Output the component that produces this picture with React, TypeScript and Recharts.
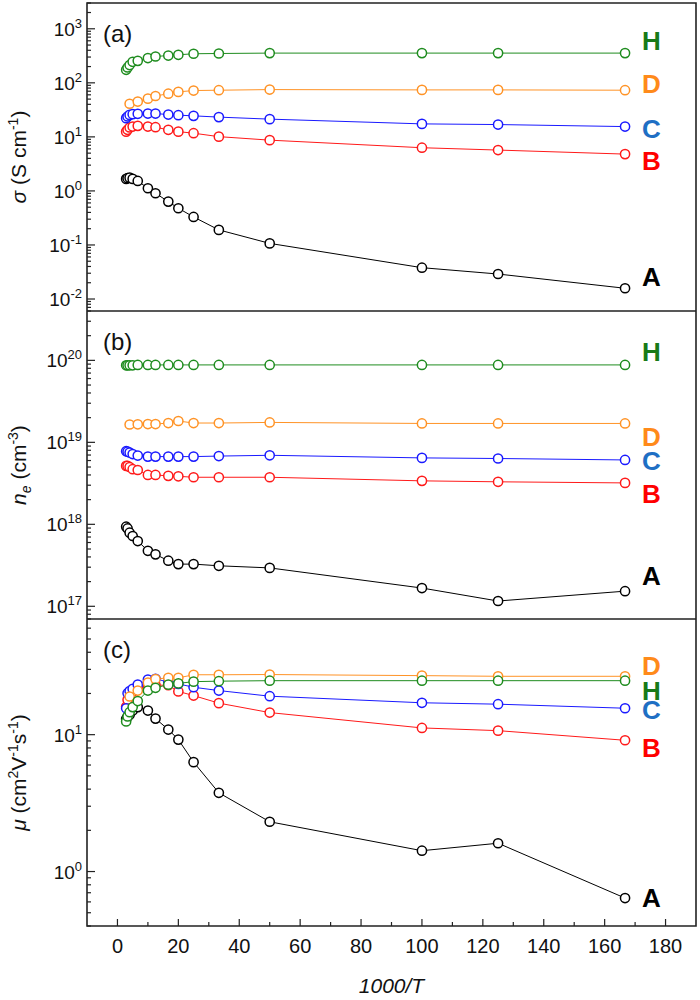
import React from 'react';
import { LineChart, Line, XAxis, YAxis, ReferenceArea } from 'recharts';

const FONT = '"Liberation Sans", Arial, Helvetica, sans-serif';
const AXIS = '#222';

// 1000/T for T = 350, 300, 250, 200, 150, 100, 80, 60, 50, 40, 30, 20, 10, 8, 6 K
const invT = [2.86, 3.33, 4, 5, 6.67, 10, 12.5, 16.7, 20, 25, 33.3, 50, 100, 125, 166.7];
// sample D starts at 250 K and skips 200 K
const invTD = [4, 6.67, 10, 12.5, 16.7, 20, 25, 33.3, 50, 100, 125, 166.7];

const xDomain = [-10, 190];
const xTicks = [0, 10, 20, 30, 40, 50, 60, 70, 80, 90, 100, 110, 120, 130, 140, 150, 160, 170, 180];

// (a) conductivity, S/cm
const sigmaA = [1.67, 1.72, 1.76, 1.67, 1.53, 1.12, 0.906, 0.634, 0.478, 0.33, 0.19, 0.107, 0.038, 0.029, 0.0158];
const sigmaB = [12.5, 13.5, 14.9, 15.5, 16, 15.5, 15.1, 13.5, 12.5, 11.7, 10.1, 8.7, 6.3, 5.7, 4.8];
const sigmaC = [22.2, 23.8, 25.5, 26.3, 26.7, 27, 27, 25.9, 25.2, 24.5, 23.2, 21.3, 17.4, 16.9, 15.5];
const sigmaD = [41, 45, 51, 57, 63, 68, 72, 73, 75, 74, 74, 73];
const sigmaH = [174, 192, 213, 245, 255, 287, 307, 320, 330, 345, 349, 355, 355, 355, 355];

// (b) carrier density, cm^-3
const neA = [9.35e17, 8.9e17, 7.9e17, 7.2e17, 6.25e17, 4.75e17, 4.3e17, 3.6e17, 3.27e17, 3.27e17, 3.12e17, 2.94e17, 1.67e17, 1.16e17, 1.53e17];
const neB = [5.16e18, 5.16e18, 5.0e18, 4.7e18, 4.6e18, 4.0e18, 4.0e18, 3.9e18, 3.85e18, 3.75e18, 3.75e18, 3.75e18, 3.39e18, 3.3e18, 3.2e18];
const neC = [7.8e18, 7.7e18, 7.5e18, 7.2e18, 6.9e18, 6.7e18, 6.7e18, 6.7e18, 6.7e18, 6.7e18, 6.8e18, 6.95e18, 6.46e18, 6.35e18, 6.1e18];
const neD = [1.65e19, 1.66e19, 1.67e19, 1.67e19, 1.72e19, 1.82e19, 1.72e19, 1.72e19, 1.75e19, 1.7e19, 1.7e19, 1.7e19];
const neH = [8.7e19, 8.7e19, 8.7e19, 8.7e19, 8.8e19, 8.8e19, 8.8e19, 8.8e19, 8.8e19, 8.8e19, 8.8e19, 8.8e19, 8.8e19, 8.8e19, 8.8e19];

// (c) mobility, cm^2/Vs
const muA = [13, 13.5, 14, 15, 15.9, 15.0, 13.1, 10.9, 9.2, 6.3, 3.76, 2.31, 1.42, 1.61, 0.64];
const muB = [16, 18, 19.5, 20.5, 21.5, 22.5, 23, 23, 20.7, 19.3, 17, 14.5, 11.2, 10.7, 9.1];
const muC = [15.6, 20.1, 20.8, 21.6, 23.2, 25.3, 25.6, 24.2, 23.5, 22.2, 21.0, 19.1, 17.1, 16.7, 15.6];
const muD = [19, 21, 24, 25.5, 26, 26, 27.4, 27.4, 27.5, 27, 26.7, 26.7];
const muH = [12.5, 13.6, 14.6, 15.9, 17.6, 21, 22, 23.2, 23.7, 24.4, 24.6, 24.8, 24.8, 24.8, 24.8];

const names = ['A', 'B', 'C', 'D', 'H'];
const lineColors: Record<string, string> = { A: '#000000', B: '#ff1a1a', C: '#1a1aff', D: '#ff9326', H: '#1f8c1f' };
const labelColors: Record<string, string> = { A: '#000000', B: '#ff0000', C: '#1f6fc4', D: '#ff8a1a', H: '#187a18' };

const toPts = (xs: number[], ys: number[]) => xs.map((x, i) => ({ x, y: ys[i] }));

// log ticks: 1..9 x 10^k inside the domain
const logTicks = (lo: number, hi: number) => {
  const out: number[] = [];
  for (let k = Math.floor(Math.log10(lo)); k <= Math.ceil(Math.log10(hi)); k++) {
    for (let m = 1; m <= 9; m++) {
      const v = Number((m * Math.pow(10, k)).toPrecision(6));
      if (v >= lo && v <= hi) out.push(v);
    }
  }
  return out;
};

const panels = [
  {
    tag: '(a)',
    domain: [0.006, 3000],
    series: {
      A: toPts(invT, sigmaA), B: toPts(invT, sigmaB), C: toPts(invT, sigmaC),
      D: toPts(invTD, sigmaD), H: toPts(invT, sigmaH),
    } as Record<string, { x: number; y: number }[]>,
    labelDy: { A: -11, B: 7, C: 2, D: -6, H: -12 } as Record<string, number>,
    title: (
      <>
        <tspan fontStyle="italic">σ</tspan>
        <tspan> (S cm</tspan>
        <tspan dy={-8} fontSize={14}>-1</tspan>
        <tspan dy={8}>)</tspan>
      </>
    ),
  },
  {
    tag: '(b)',
    domain: [7e16, 4e20],
    series: {
      A: toPts(invT, neA), B: toPts(invT, neB), C: toPts(invT, neC),
      D: toPts(invTD, neD), H: toPts(invT, neH),
    } as Record<string, { x: number; y: number }[]>,
    labelDy: { A: -15, B: 11, C: 1, D: 14, H: -13 } as Record<string, number>,
    title: (
      <>
        <tspan fontStyle="italic">n</tspan>
        <tspan dy={5} fontSize={14} fontStyle="italic">e</tspan>
        <tspan dy={-5}> (cm</tspan>
        <tspan dy={-8} fontSize={14}>-3</tspan>
        <tspan dy={8}>)</tspan>
      </>
    ),
  },
  {
    tag: '(c)',
    domain: [0.4, 70],
    series: {
      A: toPts(invT, muA), B: toPts(invT, muB), C: toPts(invT, muC),
      D: toPts(invTD, muD), H: toPts(invT, muH),
    } as Record<string, { x: number; y: number }[]>,
    labelDy: { A: 0, B: 8, C: 2, D: -10, H: 10 } as Record<string, number>,
    title: (
      <>
        <tspan fontStyle="italic">μ</tspan>
        <tspan> (cm</tspan>
        <tspan dy={-8} fontSize={14}>2</tspan>
        <tspan dy={8}>V</tspan>
        <tspan dy={-8} fontSize={14}>-1</tspan>
        <tspan dy={8}>s</tspan>
        <tspan dy={-8} fontSize={14}>-1</tspan>
        <tspan dy={8}>)</tspan>
      </>
    ),
  },
];

const XTick = (showLabel: boolean) => (props: any) => {
  const { x, y, payload } = props;
  const v = payload.value;
  const major = v % 20 === 0;
  return (
    <g>
      <line x1={x} x2={x} y1={y} y2={y - (major ? 7 : 4)} stroke={AXIS} strokeWidth={1.2} />
      {showLabel && major && (
        <text x={x} y={y + 27} textAnchor="middle" fontSize={20} fontFamily={FONT} fill="#111">
          {v}
        </text>
      )}
    </g>
  );
};

const YTick = (props: any) => {
  const { x, y, payload } = props;
  const v = payload.value;
  const e = Math.log10(v);
  const major = Math.abs(e - Math.round(e)) < 1e-6;
  return (
    <g>
      <line x1={x} x2={x + (major ? 8 : 4)} y1={y} y2={y} stroke={AXIS} strokeWidth={1.2} />
      {major && (
        <text x={x - 5} y={y + 7} textAnchor="end" fontSize={19} fontFamily={FONT} fill="#111">
          <tspan>10</tspan>
          <tspan dy={-8} fontSize={13}>{Math.round(e)}</tspan>
        </text>
      )}
    </g>
  );
};

const endLabel = (name: string, n: number, dy: number) => (props: any) => {
  if (props.index !== n - 1) return <g />;
  return (
    <text
      x={props.x + 17}
      y={props.y + dy}
      dominantBaseline="central"
      fontSize={26}
      fontWeight="bold"
      fontFamily={FONT}
      fill={labelColors[name]}
    >
      {name}
    </text>
  );
};

const heights = [311, 308, 381];
const tops = [3, 311, 619];

export default function App() {
  return (
    <div style={{ position: 'absolute', left: 0, top: 0, width: 700, height: 1000, background: '#fff' }}>
      {panels.map((p, i) => {
        const last = i === panels.length - 1;
        return (
          <LineChart
            key={p.tag}
            width={700}
            height={heights[i]}
            margin={{ top: i === 0 ? 3 : 0, right: 4, bottom: 0, left: 0 }}
            style={{ overflow: 'visible' }}
          >
            <XAxis
              dataKey="x"
              type="number"
              domain={xDomain}
              allowDataOverflow
              ticks={xTicks}
              interval={0}
              height={last ? 74 : 0}
              tickSize={0}
              tickMargin={0}
              tickLine={false}
              tick={XTick(last)}
              axisLine={false}
              label={
                last
                  ? {
                      content: (lp: any) => {
                        const vb = lp.viewBox;
                        return (
                          <text
                            x={vb.x + vb.width / 2}
                            y={vb.y + 67}
                            textAnchor="middle"
                            fontSize={21}
                            fontStyle="italic"
                            fontFamily={FONT}
                            fill="#111"
                          >
                            1000/T
                          </text>
                        );
                      },
                    }
                  : undefined
              }
            />
            <YAxis
              type="number"
              scale="log"
              domain={p.domain}
              allowDataOverflow
              ticks={logTicks(p.domain[0], p.domain[1])}
              interval={0}
              width={87}
              tickSize={0}
              tickMargin={0}
              tickLine={false}
              tick={YTick}
              axisLine={false}
              label={{
                content: (lp: any) => {
                  const vb = lp.viewBox;
                  const cy = vb.y + vb.height / 2;
                  return (
                    <text
                      transform={`translate(26, ${cy}) rotate(-90)`}
                      textAnchor="middle"
                      fontSize={21}
                      fontFamily={FONT}
                      fill="#111"
                    >
                      {p.title}
                    </text>
                  );
                },
              }}
            />
            {/* panel frame */}
            <ReferenceArea
              x1={xDomain[0]}
              x2={xDomain[1]}
              y1={p.domain[0]}
              y2={p.domain[1]}
              fill="none"
              fillOpacity={0}
              stroke={AXIS}
              strokeWidth={1.6}
              ifOverflow="visible"
            />
            {names.map((n) => (
              <Line
                key={n}
                data={p.series[n]}
                dataKey="y"
                type="linear"
                stroke={lineColors[n]}
                strokeWidth={1}
                dot={{ r: 4.6, stroke: lineColors[n], strokeWidth: 1.5, fill: '#fff' }}
                label={endLabel(n, p.series[n].length, p.labelDy[n])}
                isAnimationActive={false}
              />
            ))}
          </LineChart>
        );
      })}
      {panels.map((p, i) => (
        <div
          key={p.tag}
          style={{
            position: 'absolute',
            left: 103,
            top: tops[i] + 19,
            fontFamily: FONT,
            fontSize: 24,
            lineHeight: '24px',
            color: '#111',
          }}
        >
          {p.tag}
        </div>
      ))}
    </div>
  );
}
